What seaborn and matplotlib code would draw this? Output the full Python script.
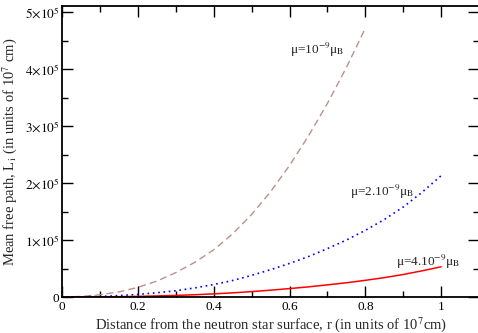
import numpy as np
import pandas as pd
import seaborn as sns
import matplotlib.pyplot as plt
from matplotlib.ticker import MultipleLocator, FuncFormatter

# distance from surface (units of 1e7 cm)
r_short = [0, 0.05, 0.1, 0.15, 0.2, 0.25, 0.3, 0.35, 0.4, 0.45, 0.5,
           0.55, 0.6, 0.65, 0.7, 0.75, 0.8]
r_long = [0, 0.05, 0.1, 0.15, 0.2, 0.25, 0.3, 0.35, 0.4, 0.45, 0.5,
          0.55, 0.6, 0.65, 0.7, 0.75, 0.8, 0.85, 0.9, 0.95, 1.0]

# mean free path, in units of 1e5
L_mu1 = [0, 0.01, 0.04, 0.09, 0.17, 0.28, 0.43, 0.61, 0.83, 1.11, 1.45,
         1.85, 2.31, 2.83, 3.40, 4.03, 4.72]
L_mu2 = [0, 0.003, 0.01, 0.025, 0.045, 0.075, 0.11, 0.16, 0.22, 0.29, 0.38,
         0.48, 0.59, 0.71, 0.85, 1.0, 1.17, 1.36, 1.58, 1.84, 2.13]
L_mu4 = [0, 0.001, 0.003, 0.006, 0.011, 0.019, 0.028, 0.04, 0.055, 0.073, 0.095,
         0.12, 0.148, 0.178, 0.213, 0.25, 0.293, 0.34, 0.395, 0.46, 0.53]

labels = ['μ=10$^{-9}$μ$_{\\rm B}$', 'μ=2.10$^{-9}$μ$_{\\rm B}$',
          'μ=4.10$^{-9}$μ$_{\\rm B}$']

sns.set_theme(style="ticks")
plt.rcParams['font.family'] = ['Liberation Serif', 'DejaVu Serif']
plt.rcParams['mathtext.fontset'] = 'stix'

fig = plt.figure(figsize=(4.78, 3.33), dpi=100)
ax = fig.add_axes([0.1303, 0.1081, 0.8718, 0.8724])

d1 = pd.DataFrame({'r': r_short, 'L': np.array(L_mu1) * 1e5})
d2 = pd.DataFrame({'r': r_long, 'L': np.array(L_mu2) * 1e5})
d4 = pd.DataFrame({'r': r_long, 'L': np.array(L_mu4) * 1e5})

sns.lineplot(data=d1, x='r', y='L', ax=ax, color='#bc8f8f', lw=1.0,
             linestyle=(0, (5, 3)))
sns.lineplot(data=d2, x='r', y='L', ax=ax, color='#0000ff', lw=1.2,
             linestyle=(0, (1, 2.2)))
sns.lineplot(data=d4, x='r', y='L', ax=ax, color='#ff0000', lw=1.1)

ax.set_xlim(0, 1.1)
ax.set_ylim(0, 5.1e5)

ax.xaxis.set_major_locator(MultipleLocator(0.2))
ax.xaxis.set_minor_locator(MultipleLocator(0.1))
ax.yaxis.set_major_locator(MultipleLocator(1e5))
ax.yaxis.set_minor_locator(MultipleLocator(0.5e5))


def xfmt(v, pos):
    if abs(v) < 1e-9:
        return '0'
    if abs(v - round(v)) < 1e-9:
        return '%d' % round(v)
    return '%.1f' % v


def yfmt(v, pos):
    n = int(round(v / 1e5))
    if n == 0:
        return '0'
    return r'$%d{\times}10^{5}$' % n


ax.xaxis.set_major_formatter(FuncFormatter(xfmt))
ax.yaxis.set_major_formatter(FuncFormatter(yfmt))

ax.tick_params(which='both', direction='in', top=True, right=True,
               colors='black', labelsize=9.5, width=1.0)
ax.tick_params(which='major', length=8, pad=3)
ax.tick_params(which='minor', length=4.5)
ax.tick_params(axis='y', pad=2)
for s in ax.spines.values():
    s.set_linewidth(1.3)
    s.set_color('black')

ax.set_xlabel(r'Distance from the neutron star surface, r (in units of 10$^7$cm)',
              fontsize=10.5, labelpad=1)
ax.set_ylabel(r'Mean free path, L$_{\rm i}$ (in units of 10$^7$ cm)',
              fontsize=10.5, labelpad=4)

ax.text(0.6, 4.33e5, labels[0], fontsize=9.5, ha='left', va='center')
ax.text(0.76, 1.85e5, labels[1], fontsize=9.5, ha='left', va='center')
ax.text(0.88, 0.62e5, labels[2], fontsize=9.5, ha='left', va='center')

fig.savefig('out.png', dpi=100)
